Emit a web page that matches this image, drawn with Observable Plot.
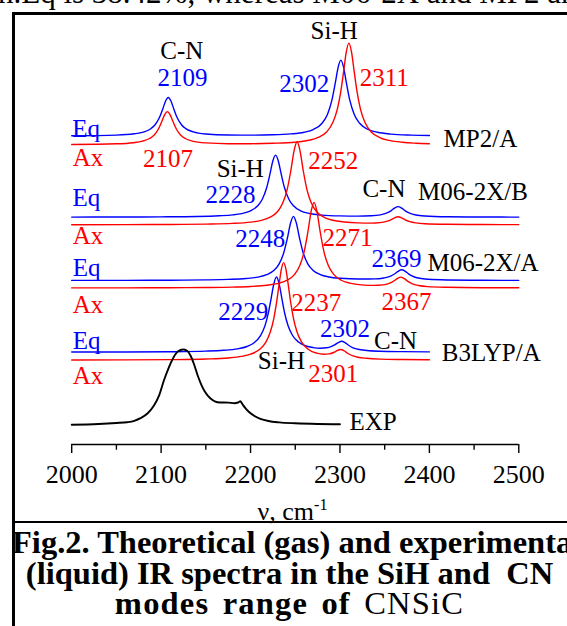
<!DOCTYPE html>
<html><head><meta charset="utf-8">
<script src="https://cdn.jsdelivr.net/npm/d3@7"></script>
<script src="https://cdn.jsdelivr.net/npm/@observablehq/plot@0.6"></script>
<style>
html,body{margin:0;padding:0;background:#fff;overflow:hidden;width:567px;height:626px;}
#page{position:relative;width:567px;height:626px;overflow:hidden;font-family:"Liberation Serif","Times New Roman",serif;color:#000;}
.abs{position:absolute;white-space:nowrap;}
.bar{position:absolute;background:#000;}
#chart{position:absolute;left:0;top:0;}
#chart svg text{font-family:"Liberation Serif","Times New Roman",serif;}
#topline{left:-2px;top:-23.5px;font-size:31px;line-height:31px;}
#xlabel{left:0;width:585px;text-align:center;top:498.5px;font-size:26px;line-height:26px;}
#xlabel span{position:relative;top:-0.62em;font-size:0.62em;}
.cap{left:12px;width:555px;text-align:center;font-size:32.5px;line-height:31px;font-weight:bold;}
.cap .reg{font-weight:normal;}
</style></head><body>
<div id="page">
  <div id="topline" class="abs">n.Eq is 38.42%, whereas M06-2X and MP2 an</div>
  <div id="chart"></div>
  <div class="bar" style="left:12px;top:12px;width:2.5px;height:614px"></div>
  <div class="bar" style="left:12px;top:12px;width:560px;height:2.5px"></div>
  <div class="bar" style="left:12px;top:520.7px;width:560px;height:2px"></div>
  <div id="xlabel" class="abs">ν, cm<span>-1</span></div>
  <div class="abs cap" style="top:527px">Fig.2. Theoretical (gas) and experimental</div>
  <div class="abs cap" style="top:558px">(liquid) IR spectra in the SiH and&nbsp; CN</div>
  <div class="abs cap" style="top:588px;letter-spacing:1.2px;word-spacing:4px">modes range of <span class="reg">CNSiC</span></div>
</div>
<script>
// ---- data: wavenumber (cm-1) and intensity above each trace's baseline (a.u.) ----
const mp2Eq = [[2000,0.4],[2050,1.1],[2070,2.4],[2080,4.1],[2088,7.2],[2093,11.2],[2098,18.4],[2102,27.7],[2105,35.2],[2108,38.7],[2111,35.2],[2114,27.7],[2118,18.4],[2123,11.2],[2128,7.3],[2136,4.3],[2150,2.2],[2175,1.2],[2200,1.1],[2225,1.4],[2245,2.3],[2260,4.0],[2270,6.6],[2280,13.0],[2286,21.8],[2291,36.0],[2295,54.3],[2298,69.1],[2301,76.1],[2304,69.1],[2307,54.3],[2311,36.0],[2316,21.7],[2322,12.9],[2332,6.5],[2342,3.9],[2357,2.1],[2380,1.1],[2400,0.7]];
const mp2Ax = [[2000,0.35],[2050,1.0],[2069,2.1],[2079,3.6],[2087,6.3],[2092,9.6],[2097,15.8],[2101,23.8],[2104,30.2],[2107,33.2],[2110,30.2],[2113,23.8],[2117,15.8],[2122,9.6],[2127,6.3],[2135,3.7],[2150,1.9],[2175,1.1],[2200,1.1],[2225,1.5],[2250,2.6],[2265,4.5],[2275,7.1],[2285,12.8],[2292,22.2],[2297,35.4],[2301,53.6],[2304,72.7],[2307,92.4],[2310,101.7],[2313,92.4],[2316,72.7],[2319,53.6],[2323,35.4],[2328,22.2],[2335,12.8],[2345,7.0],[2355,4.4],[2370,2.5],[2385,1.6],[2400,1.1]];
const m06bEq = [[2000,0.1],[2050,0.2],[2100,0.35],[2140,0.7],[2165,1.4],[2180,2.3],[2190,3.6],[2200,6.4],[2208,11.4],[2213,17.7],[2218,29.4],[2222,44.3],[2225,56.4],[2228,62.1],[2231,56.4],[2234,44.3],[2238,29.4],[2243,17.7],[2248,11.4],[2256,6.4],[2266,3.7],[2280,2.1],[2300,1.3],[2320,1.1],[2335,1.4],[2345,2.3],[2352,4.0],[2357,6.4],[2361,9.1],[2365,10.6],[2369,9.1],[2373,6.4],[2378,4.0],[2385,2.2],[2395,1.2],[2420,0.45],[2460,0.2],[2500,0.1]];
const m06bAx = [[2000,0.12],[2060,0.2],[2110,0.37],[2150,0.72],[2180,1.4],[2200,2.7],[2212,4.4],[2222,7.6],[2230,13.0],[2236,21.7],[2241,35.5],[2245,53.8],[2249,75.4],[2252,83],[2255,75.4],[2259,53.8],[2263,35.5],[2268,21.7],[2274,13.0],[2282,7.6],[2292,4.5],[2305,2.8],[2320,1.9],[2335,1.7],[2345,2.2],[2352,3.4],[2357,5.0],[2361,7.0],[2365,8.1],[2369,6.9],[2373,4.9],[2378,3.2],[2385,1.9],[2395,1.1],[2420,0.5],[2460,0.25],[2500,0.15]];
const m06aEq = [[2000,0.1],[2060,0.16],[2110,0.3],[2150,0.6],[2175,1.1],[2195,2.0],[2208,3.4],[2218,5.8],[2226,10.0],[2232,16.7],[2237,27.3],[2241,41.5],[2245,58.2],[2248,64.1],[2251,58.2],[2255,41.5],[2259,27.3],[2264,16.7],[2270,10.1],[2278,5.9],[2288,3.5],[2301,2.2],[2321,1.5],[2339,1.6],[2349,2.5],[2356,4.1],[2361,6.5],[2365,9.2],[2369,10.7],[2373,9.2],[2377,6.4],[2382,4.0],[2389,2.2],[2399,1.2],[2420,0.55],[2460,0.23],[2500,0.15]];
const m06aAx = [[2000,0.1],[2060,0.17],[2110,0.3],[2150,0.52],[2180,0.92],[2200,1.5],[2218,2.7],[2231,4.6],[2241,7.8],[2249,13.4],[2255,22.3],[2260,36.5],[2264,55.4],[2268,77.7],[2271,85.6],[2274,77.8],[2278,55.5],[2282,36.6],[2287,22.4],[2293,13.6],[2301,8.0],[2311,4.9],[2324,3.1],[2338,2.6],[2348,3.1],[2355,4.6],[2360,6.8],[2364,9.4],[2368,10.9],[2372,9.3],[2376,6.6],[2381,4.2],[2388,2.5],[2398,1.4],[2420,0.7],[2460,0.3],[2500,0.2]];
const b3lypEq = [[2000,0.13],[2060,0.24],[2110,0.47],[2150,1.07],[2170,1.9],[2185,3.3],[2196,5.7],[2204,9.5],[2211,16.4],[2216,26.1],[2220,39.5],[2223,53.6],[2226,68.2],[2229,75.2],[2232,68.4],[2235,53.8],[2238,39.7],[2242,26.4],[2247,16.7],[2254,9.9],[2262,6.2],[2270,4.6],[2278,4.0],[2285,4.4],[2290,5.5],[2294,7.3],[2298,9.6],[2302,11.0],[2306,9.3],[2310,6.7],[2314,4.6],[2320,2.9],[2330,1.7],[2345,0.95],[2370,0.53],[2400,0.32]];
const b3lypAx = [[2000,0.16],[2060,0.28],[2110,0.54],[2150,1.15],[2175,2.2],[2190,3.8],[2200,6.0],[2210,10.7],[2217,17.9],[2222,27.9],[2226,41.6],[2229,57.0],[2232,76.3],[2234.5,91.1],[2237,97.6],[2239.5,91.3],[2242,76.5],[2245,57.2],[2248,41.9],[2252,28.2],[2257,18.3],[2264,11.2],[2274,7.0],[2282,5.9],[2288,6.3],[2293,7.7],[2297,9.7],[2301,10.7],[2305,9.2],[2309,6.7],[2314,4.5],[2320,3.0],[2330,1.9],[2345,1.1],[2370,0.65],[2400,0.4]];
const expSpectrum = [[2000,0],[2030,0.8],[2050,1.8],[2062,2.6],[2070,4.0],[2077,6.6],[2085,11.5],[2092,19.3],[2098,30],[2103,44],[2108,56],[2114,67.6],[2119,73.5],[2124.5,75.3],[2129,74],[2133,69],[2137,60],[2141,49],[2145,40],[2149,33],[2155,26.5],[2160,23.5],[2166,22.3],[2175,22.2],[2182,21.6],[2186,22.3],[2188.5,23.5],[2191,20.5],[2194,17],[2198,13],[2204,9],[2211,6],[2220,3.8],[2232,2.4],[2250,1.5],[2275,0.8],[2300,0.5]];

const seriesNames = ["MP2/A Eq","MP2/A Ax","M06-2X/B Eq","M06-2X/B Ax","M06-2X/A Eq","M06-2X/A Ax","B3LYP/A Eq","B3LYP/A Ax","EXP"];
const seriesKinds = ["Eq","Ax","Eq","Ax","Eq","Ax","Eq","Ax","exp"];
const seriesData = [mp2Eq, mp2Ax, m06bEq, m06bAx, m06aEq, m06aAx, b3lypEq, b3lypAx, expSpectrum];
const baselines = [308.3, 299.7, 227.3, 219.7, 164, 156.5, 92.3, 84.3, 19.7];

const majorTicks = [2000, 2100, 2200, 2300, 2400, 2500];
const minorTicks = [2050, 2150, 2250, 2350, 2450];

// annotations: text, wavenumber, level, kind, anchor
const labelTexts = ["C-N","2109","Si-H","2302","2311","Eq","Ax","2107","MP2/A",
  "Si-H","2228","2252","Eq","C-N","M06-2X/B","Ax","2248","2271",
  "2369","M06-2X/A","Eq","Ax","2229","2237","2367",
  "2302","C-N","B3LYP/A","Eq","Si-H","2301","Ax","EXP"];
const labelNu = [2123.2,2123.9,2293.5,2260.2,2349.6,2000.6,2001.2,2107.6,2415.9,
  2188.5,2177.6,2292.5,2000.9,2349.2,2387.4,2001.2,2210.9,2308.4,
  2363.1,2397.8,2001.2,2001.2,2191.9,2273.4,2374.5,
  2305.7,2362.2,2413.9,2001.2,2234.5,2292.5,2001.2,2310.7];
const labelLevel = [385.7,359,405.7,353,359,308,279,277.3,298,
  268,241.3,275.7,239,247.5,245,201,198,199,
  178,174,169,132,125,134,135,
  108,96,84,96,76,63,61,15];
const labelKinds = ["note","Eq","note","Eq","Ax","Eq","Ax","Ax","note",
  "note","Eq","Ax","Eq","note","note","Ax","Eq","Ax",
  "Eq","note","Eq","Ax","Eq","Ax","Ax",
  "Eq","note","note","Eq","note","Ax","Ax","note"];
const labelAnchors = ["middle","middle","middle","middle","middle","start","start","middle","start",
  "middle","middle","middle","start","middle","start","start","middle","middle",
  "middle","start","start","start","middle","middle","middle",
  "middle","middle","start","start","middle","middle","start","start"];

const kindColor = {Eq: "#0000ff", Ax: "#ff0000", exp: "#000000", note: "#000000"};
const serif = "'Liberation Serif', 'Times New Roman', serif";

// ---- build tables ----
const rows = [];
seriesData.forEach((pts, i) => {
  pts.forEach(([nu, h]) => rows.push({series: seriesNames[i], kind: seriesKinds[i], nu, y: baselines[i] + h}));
});
const labels = labelTexts.map((t, i) => ({text: t, nu: labelNu[i], y: labelLevel[i], kind: labelKinds[i], anchor: labelAnchors[i]}));

const lineMarks = ["Eq","Ax","exp"].map(k => Plot.line(rows.filter(d => d.kind === k), {
  x: "nu", y: "y", z: "series", stroke: kindColor[k], strokeWidth: k === "exp" ? 1.9 : 1.4, curve: "monotone-x"
}));
const textMarks = [];
for (const k of ["Eq","Ax","note"]) for (const a of ["start","middle"]) {
  const sub = labels.filter(d => d.kind === k && d.anchor === a);
  if (sub.length) textMarks.push(Plot.text(sub, {x: "nu", y: "y", text: "text", fill: kindColor[k], textAnchor: a, lineAnchor: "bottom", fontSize: 25, fontFamily: serif}));
}

const chart = Plot.plot({
  width: 567, height: 522,
  marginLeft: 71.2, marginRight: 48.7, marginTop: 0, marginBottom: 78,
  x: {domain: [2000, 2500]},
  y: {domain: [0, 444], axis: null},
  style: {fontFamily: serif, fontSize: "25px", background: "transparent", overflow: "visible", color: "#000"},
  marks: [
    Plot.ruleY([0], {strokeWidth: 1.4}),
    Plot.axisX({ticks: minorTicks, tickSize: 5.7, tickFormat: () => "", label: null, strokeWidth: 1.4}),
    Plot.axisX({ticks: majorTicks, tickSize: 9, tickPadding: 11, tickFormat: d => String(d), fontSize: 26, fontFamily: serif, label: null, strokeWidth: 1.4}),
    ...lineMarks,
    ...textMarks
  ]
});
document.getElementById("chart").appendChild(chart);
</script>
</body></html>
